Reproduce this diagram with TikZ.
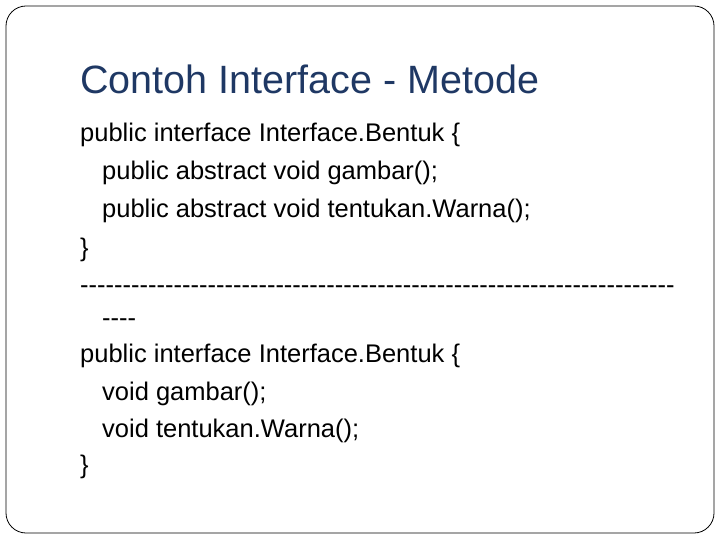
\documentclass[tikz,border=0pt]{standalone}
\usepackage{fontspec}
\setmainfont{Liberation Sans}
\definecolor{ttl}{RGB}{31,56,100}
\newcommand\dashrow[1]{\foreach \i in {1,...,#1}{-{}}}
\begin{document}
\begin{tikzpicture}[x=1pt,y=-1pt,
  ln/.style={anchor=base west,inner sep=0pt,font=\fontsize{25.5}{30}\selectfont}]
\useasboundingbox (0,0) rectangle (720,540);
\draw[line width=0.8pt,rounded corners=20pt] (6,6) rectangle (714,533);
\node[anchor=base west,inner sep=0pt,text=ttl,font=\fontsize{39.5}{44}\selectfont] (t) at (80,94) {Contoh Interface - Metode};
\node[ln] (l1) at (80,142) {public interface Interface.Bentuk \{};
\node[ln] (l2) at (102,180) {public abstract void gambar();};
\node[ln] (l3) at (102,218) {public abstract void tentukan.Warna();};
\node[ln] (l4) at (80,256) {\}};
\node[ln] (l5) at (80,293) {\dashrow{70}};
\node[ln] (l6) at (102,326) {\dashrow{4}};
\node[ln] (l7) at (80,362) {public interface Interface.Bentuk \{};
\node[ln] (l8) at (102,400) {void gambar();};
\node[ln] (l9) at (102,437) {void tentukan.Warna();};
\node[ln] (l10) at (80,473) {\}};
\end{tikzpicture}
\end{document}
